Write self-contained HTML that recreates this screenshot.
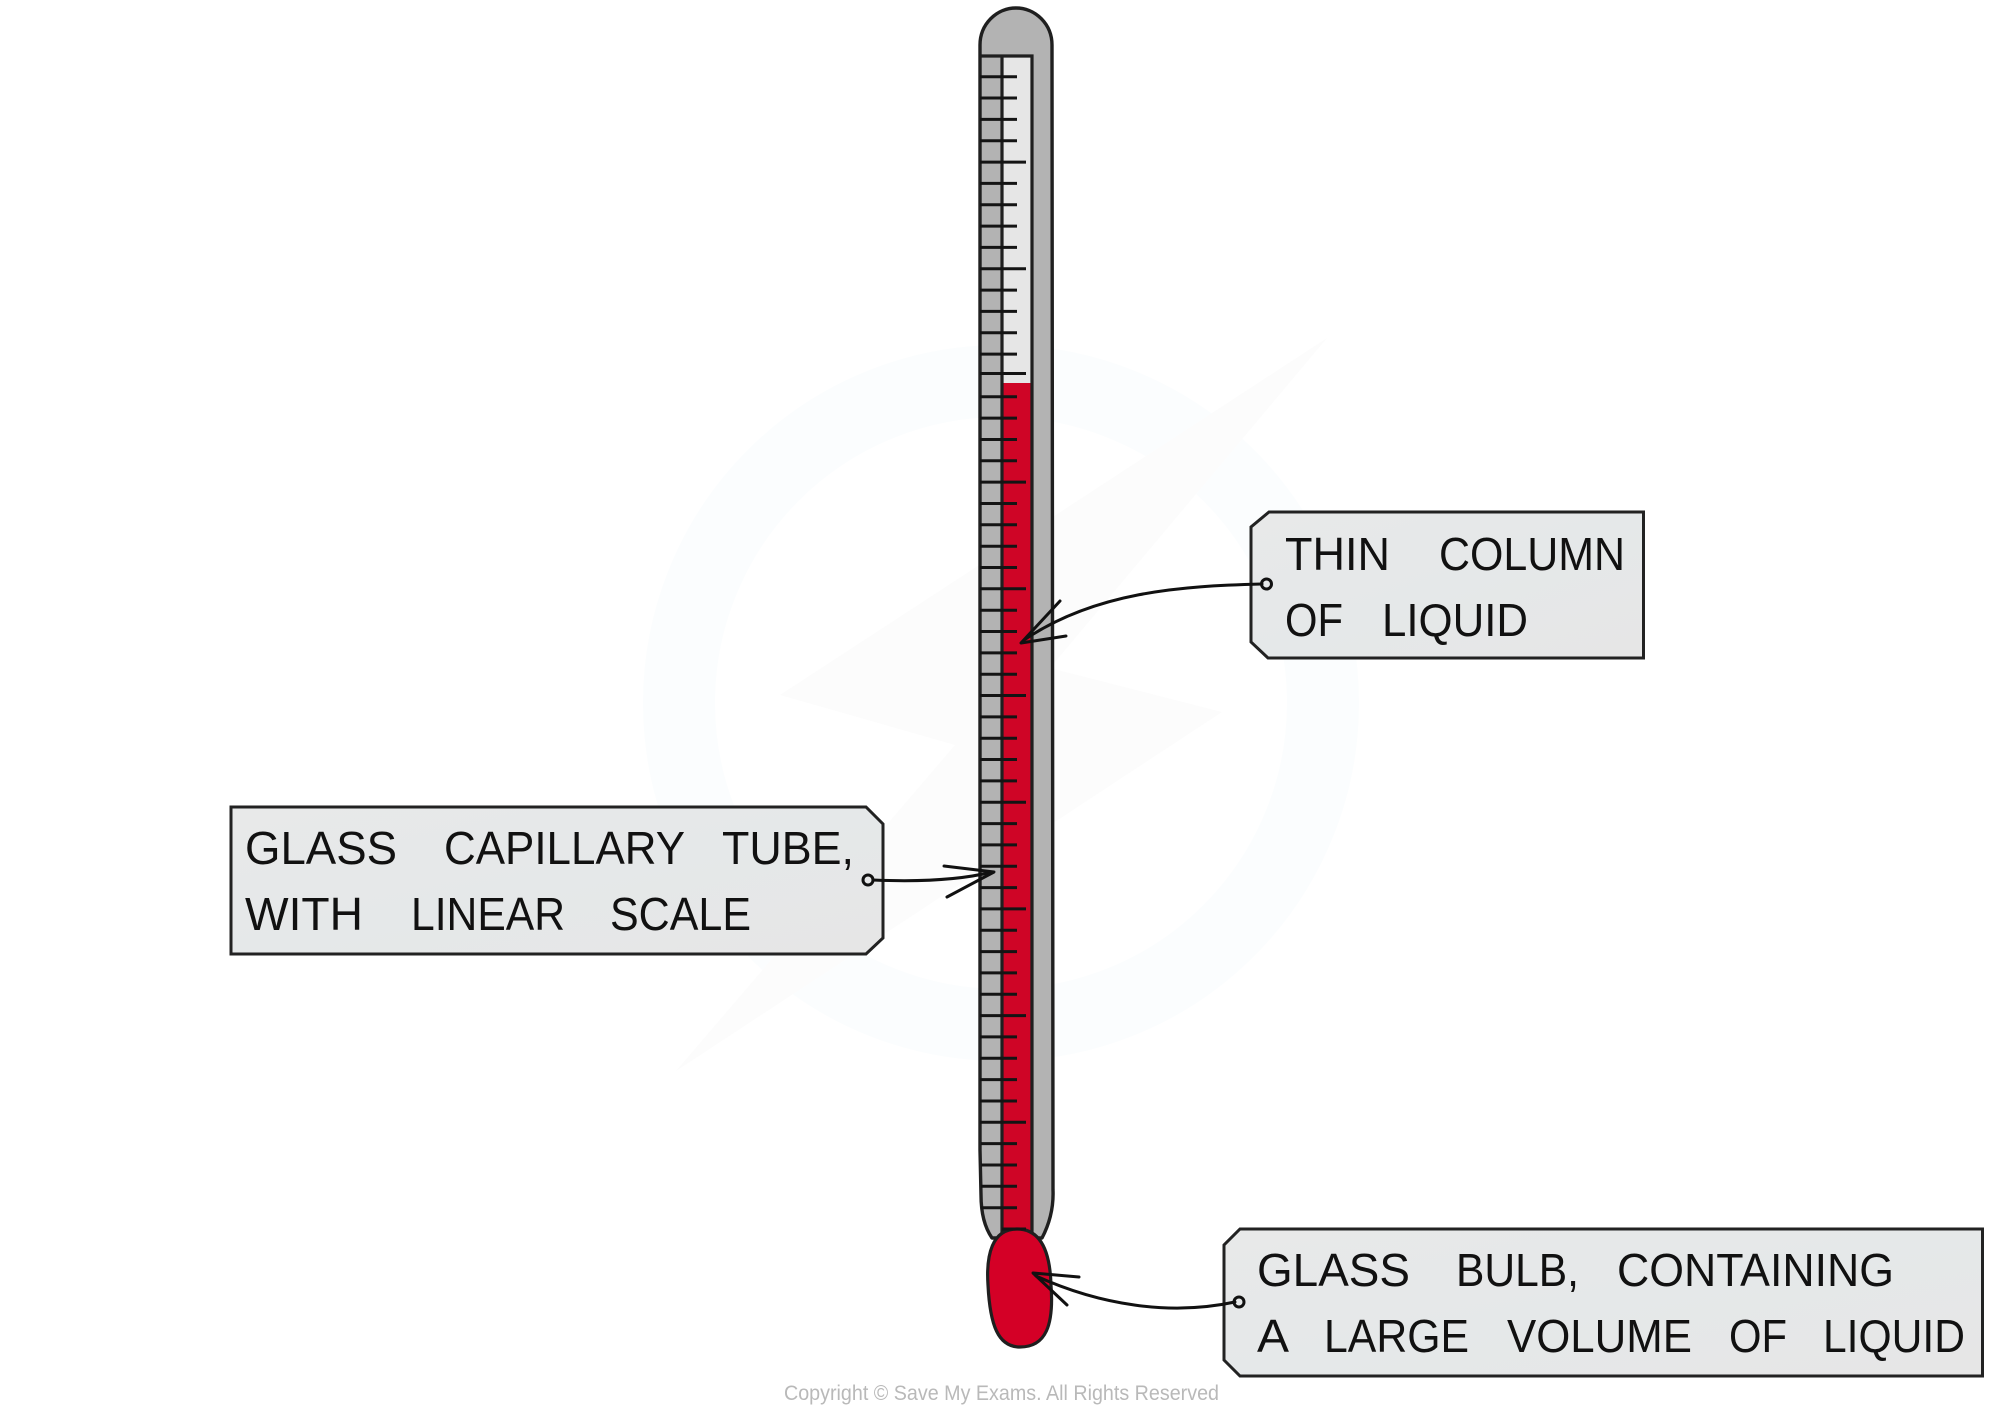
<!DOCTYPE html>
<html lang="en">
<head>
<meta charset="utf-8">
<title>Liquid-in-glass thermometer</title>
<style>
html,body{margin:0;padding:0;background:#fff;width:2000px;height:1413px;overflow:hidden}
svg{display:block}
.t{font-family:"Liberation Sans",sans-serif;font-size:46px;fill:#111;stroke:#e7e8e8;stroke-width:0.7px;paint-order:stroke}
</style>
</head>
<body>
<svg width="2000" height="1413" viewBox="0 0 2000 1413" xmlns="http://www.w3.org/2000/svg">
<defs>
<linearGradient id="tag" x1="0" y1="0" x2="1" y2="1">
<stop offset="0" stop-color="#e8e9e9"/><stop offset="0.5" stop-color="#e5e8e9"/><stop offset="1" stop-color="#e6e6e6"/>
</linearGradient>
</defs>

<!-- watermark -->
<circle cx="1001" cy="703" r="322" fill="none" stroke="#fbfdfe" stroke-width="72"/>
<polygon points="1327,338 780,695 955,745 676,1071 1222,712 1050,668" fill="#fff"/>
<polygon points="1327,338 780,695 955,745 676,1071 1222,712 1050,668" fill="#fcfcfc"/>

<!-- tube -->
<path d="M980,45 A36,37 0 0 1 1052,45 L1053,1190 Q1054,1215 1042,1238 L992,1238 Q981,1222 981,1195 L980,1150 Z" fill="#b3b3b3" stroke="#1f1f1f" stroke-width="3.4" stroke-linejoin="round"/>
<rect x="1002" y="56" width="30" height="327" fill="#e6e6e6"/>
<rect x="1002" y="383" width="30" height="860" fill="#cf0526"/>
<path d="M1032,1235 L1032,56 L980,56 M1002,56 L1002,1235" fill="none" stroke="#1f1f1f" stroke-width="3.2"/>

<!-- scale ticks -->
<path fill="none" stroke="#141414" stroke-width="3" d="
M980,76.7H1017 M980,98H1017 M980,119.4H1017 M980,140.7H1017 M980,162.1H1026
M980,183.4H1017 M980,204.7H1017 M980,226.1H1017 M980,247.4H1017 M980,268.8H1026
M980,290.1H1017 M980,311.4H1017 M980,332.8H1017 M980,354.1H1017 M980,373.5H1026
M980,396.8H1017 M980,418.1H1017 M980,439.5H1017 M980,460.8H1017 M980,482.1H1026
M980,503.5H1017 M980,524.8H1017 M980,546.2H1017 M980,567.5H1017 M980,588.8H1026
M980,610.2H1017 M980,631.5H1017 M980,652.9H1017 M980,674.2H1017 M980,695.5H1026
M980,716.9H1017 M980,738.2H1017 M980,759.5H1017 M980,780.9H1017 M980,802.2H1026
M980,823.6H1017 M980,844.9H1017 M980,866.2H1017 M980,887.6H1017 M980,908.9H1026
M980,930.3H1017 M980,951.6H1017 M980,972.9H1017 M980,994.3H1017 M980,1015.6H1026
M980,1036.9H1017 M980,1058.3H1017 M980,1079.6H1017 M980,1101H1017 M980,1122.3H1026
M981,1143.6H1017 M981,1165H1017 M981,1186.3H1017 M981,1207.7H1017 M1002,1229H1026"/>

<!-- bulb -->
<path d="M1017,1229 C1040,1229 1050,1250 1051,1285 C1054,1325 1046,1347 1020,1347 C998,1347 990,1325 988,1285 C986,1255 992,1229 1017,1229 Z" fill="#d40026" stroke="#1f1f1f" stroke-width="3.2"/>
<path d="M1002,1229H1026" stroke="#141414" stroke-width="3"/>

<!-- tags -->
<polygon points="1269,512 1643.5,512 1643.5,658 1268,658 1251,642 1251,527" fill="url(#tag)" stroke="#222" stroke-width="3"/>
<polygon points="231,807 866,807 883,824 883,938 866,954 231,954" fill="url(#tag)" stroke="#222" stroke-width="3"/>
<polygon points="1240,1229 1982.5,1229 1982.5,1376 1240,1376 1224,1360 1224,1245" fill="url(#tag)" stroke="#222" stroke-width="3"/>

<!-- tag text -->
<g class="t">
<text x="1285" y="570" textLength="105" lengthAdjust="spacingAndGlyphs">THIN</text>
<text x="1439" y="570" textLength="186" lengthAdjust="spacingAndGlyphs">COLUMN</text>
<text x="1285" y="636" textLength="58" lengthAdjust="spacingAndGlyphs">OF</text>
<text x="1382" y="636" textLength="146" lengthAdjust="spacingAndGlyphs">LIQUID</text>

<text x="245" y="864" textLength="152" lengthAdjust="spacingAndGlyphs">GLASS</text>
<text x="444" y="864" textLength="241" lengthAdjust="spacingAndGlyphs">CAPILLARY</text>
<text x="722" y="864" textLength="132" lengthAdjust="spacingAndGlyphs">TUBE,</text>
<text x="245" y="930" textLength="118" lengthAdjust="spacingAndGlyphs">WITH</text>
<text x="411" y="930" textLength="154" lengthAdjust="spacingAndGlyphs">LINEAR</text>
<text x="610" y="930" textLength="141" lengthAdjust="spacingAndGlyphs">SCALE</text>

<text x="1257" y="1286" textLength="153" lengthAdjust="spacingAndGlyphs">GLASS</text>
<text x="1456" y="1286" textLength="123" lengthAdjust="spacingAndGlyphs">BULB,</text>
<text x="1617" y="1286" textLength="277" lengthAdjust="spacingAndGlyphs">CONTAINING</text>
<text x="1257" y="1352" textLength="32" lengthAdjust="spacingAndGlyphs">A</text>
<text x="1324" y="1352" textLength="145" lengthAdjust="spacingAndGlyphs">LARGE</text>
<text x="1507" y="1352" textLength="185" lengthAdjust="spacingAndGlyphs">VOLUME</text>
<text x="1729" y="1352" textLength="58" lengthAdjust="spacingAndGlyphs">OF</text>
<text x="1823" y="1352" textLength="142" lengthAdjust="spacingAndGlyphs">LIQUID</text>
</g>

<!-- connectors -->
<g fill="none" stroke="#111" stroke-width="3" stroke-linecap="round" stroke-linejoin="round">
<path d="M1262,584 C1180,586 1095,592 1024,640"/>
<path d="M1060,601 L1021,643 L1066,636"/>
<circle cx="1266.5" cy="584" r="5"/>

<path d="M873,880 C920,882 960,880 992,872"/>
<path d="M944,866 L994,872 L947,897"/>
<circle cx="868" cy="880" r="5"/>

<path d="M1235,1302 C1170,1316 1100,1305 1036,1276"/>
<path d="M1079,1277 L1033,1273 L1067,1305"/>
<circle cx="1239" cy="1302" r="5"/>
</g>

<!-- copyright -->
<text x="784" y="1400" textLength="435" lengthAdjust="spacingAndGlyphs" font-family="'Liberation Sans',sans-serif" font-size="21" fill="#b9b9b9">Copyright © Save My Exams. All Rights Reserved</text>
</svg>
</body>
</html>
